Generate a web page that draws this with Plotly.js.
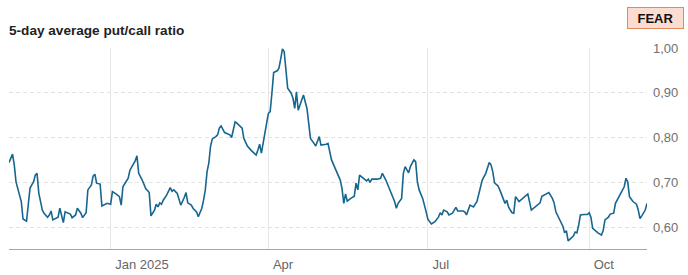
<!DOCTYPE html>
<html>
<head>
<meta charset="utf-8">
<script src="https://cdn.plot.ly/plotly-3.0.1.min.js"></script>
<style>
html,body{margin:0;padding:0;background:#fff;}
#chart{width:688px;height:275px;}
</style>
</head>
<body>
<div id="chart"></div>
<script>
// ---- data ----
const chartTitle = "5-day average put/call ratio";
const badgeText = "FEAR";

const dates = [
"2024-11-04","2024-11-06","2024-11-07","2024-11-08","2024-11-11","2024-11-12","2024-11-14","2024-11-15","2024-11-16","2024-11-17",
"2024-11-18","2024-11-19","2024-11-20","2024-11-21","2024-11-23","2024-11-24","2024-11-26","2024-11-27","2024-11-28","2024-11-29",
"2024-12-01","2024-12-02","2024-12-03","2024-12-04","2024-12-05","2024-12-06","2024-12-07","2024-12-09","2024-12-10","2024-12-12",
"2024-12-13","2024-12-15","2024-12-16","2024-12-18","2024-12-19","2024-12-21","2024-12-22","2024-12-23","2024-12-24","2024-12-26",
"2024-12-27","2024-12-29","2024-12-30",
"2025-01-01","2025-01-02","2025-01-04","2025-01-06","2025-01-07","2025-01-08","2025-01-11","2025-01-12","2025-01-14","2025-01-15",
"2025-01-16","2025-01-17","2025-01-19","2025-01-21","2025-01-23","2025-01-24","2025-01-26","2025-01-27","2025-01-28","2025-01-29",
"2025-01-30","2025-01-31",
"2025-02-02","2025-02-04","2025-02-05","2025-02-06","2025-02-08","2025-02-09","2025-02-10","2025-02-12","2025-02-13","2025-02-14",
"2025-02-16","2025-02-17","2025-02-19","2025-02-20","2025-02-22","2025-02-23","2025-02-24","2025-02-25","2025-02-26","2025-02-27",
"2025-02-28",
"2025-03-02","2025-03-03","2025-03-04","2025-03-05","2025-03-07","2025-03-09","2025-03-10","2025-03-11","2025-03-12","2025-03-13",
"2025-03-14","2025-03-16","2025-03-17","2025-03-18","2025-03-19","2025-03-20","2025-03-22","2025-03-24","2025-03-25","2025-03-26",
"2025-03-27","2025-03-28","2025-03-29","2025-03-30","2025-03-31",
"2025-04-01","2025-04-02","2025-04-03","2025-04-04","2025-04-06","2025-04-07","2025-04-08","2025-04-09","2025-04-10","2025-04-11",
"2025-04-12","2025-04-14","2025-04-15","2025-04-16","2025-04-17","2025-04-18","2025-04-19","2025-04-20","2025-04-21","2025-04-23",
"2025-04-24","2025-04-25","2025-04-27","2025-04-28","2025-04-30",
"2025-05-01","2025-05-04","2025-05-05","2025-05-07","2025-05-09","2025-05-12","2025-05-13","2025-05-14","2025-05-15","2025-05-16",
"2025-05-18","2025-05-20","2025-05-21","2025-05-22","2025-05-23","2025-05-25","2025-05-27","2025-05-28","2025-05-29","2025-05-30",
"2025-06-02","2025-06-04","2025-06-05","2025-06-07","2025-06-09","2025-06-11","2025-06-12","2025-06-13","2025-06-14","2025-06-16",
"2025-06-17","2025-06-18","2025-06-20","2025-06-21","2025-06-23","2025-06-24","2025-06-25","2025-06-26","2025-06-28","2025-06-30",
"2025-07-01","2025-07-03","2025-07-05","2025-07-07","2025-07-08","2025-07-09","2025-07-10","2025-07-12","2025-07-13","2025-07-15",
"2025-07-17","2025-07-18","2025-07-21","2025-07-22","2025-07-23","2025-07-25","2025-07-27","2025-07-29","2025-07-30",
"2025-08-01","2025-08-03","2025-08-04","2025-08-05","2025-08-06","2025-08-07","2025-08-08","2025-08-10","2025-08-11","2025-08-13",
"2025-08-14","2025-08-15","2025-08-16","2025-08-17","2025-08-18","2025-08-19","2025-08-20","2025-08-22","2025-08-24","2025-08-27",
"2025-08-29","2025-08-31",
"2025-09-02","2025-09-03","2025-09-04","2025-09-07","2025-09-08","2025-09-10","2025-09-11","2025-09-12","2025-09-14","2025-09-16",
"2025-09-17","2025-09-18","2025-09-19","2025-09-20","2025-09-22","2025-09-23","2025-09-24","2025-09-25","2025-09-26","2025-09-28",
"2025-09-30",
"2025-10-01","2025-10-02","2025-10-03","2025-10-04","2025-10-06","2025-10-08","2025-10-09","2025-10-10","2025-10-12","2025-10-13",
"2025-10-15","2025-10-16","2025-10-18","2025-10-19","2025-10-21","2025-10-22","2025-10-23","2025-10-24","2025-10-26","2025-10-28",
"2025-10-29","2025-10-30","2025-10-31","2025-11-02","2025-11-03"
];

const putCallRatio = [
0.744,0.763,0.739,0.701,0.657,0.618,0.613,0.660,0.687,0.694,
0.701,0.716,0.720,0.676,0.638,0.631,0.622,0.627,0.636,0.616,
0.620,0.622,0.642,0.627,0.610,0.634,0.632,0.629,0.621,0.627,
0.642,0.631,0.621,0.632,0.683,0.694,0.714,0.718,0.698,0.696,
0.647,0.651,0.653,
0.651,0.679,0.674,0.668,0.649,0.690,0.709,0.727,0.741,0.748,
0.759,0.720,0.705,0.686,0.677,0.625,0.638,0.651,0.645,0.654,
0.651,0.660,
0.672,0.688,0.680,0.683,0.675,0.660,0.649,0.666,0.677,0.654,
0.649,0.642,0.634,0.623,0.642,0.660,0.683,0.724,0.743,0.781,
0.797,
0.802,0.806,0.821,0.826,0.811,0.808,0.806,0.800,0.817,0.835,
0.832,0.826,0.821,0.798,0.787,0.781,0.772,0.765,0.761,0.772,
0.785,0.765,0.791,0.809,0.832,
0.854,0.858,0.899,0.945,0.949,0.955,0.975,0.998,0.992,0.940,
0.910,0.899,0.888,0.865,0.902,0.861,0.873,0.888,0.895,0.865,
0.824,0.798,0.787,0.781,0.802,
0.783,0.785,0.787,0.750,0.731,0.705,0.686,0.653,0.674,0.658,
0.664,0.669,0.698,0.683,0.716,0.709,0.703,0.707,0.700,0.707,
0.707,0.709,0.720,0.705,0.686,0.664,0.657,0.642,0.653,0.664,
0.720,0.735,0.721,0.735,0.750,0.746,0.701,0.683,0.664,0.634,
0.617,0.607,0.612,0.622,0.632,0.627,0.638,0.634,0.627,0.631,
0.644,0.636,0.636,0.634,0.627,0.649,0.645,0.657,0.675,
0.705,0.720,0.731,0.744,0.739,0.724,0.699,0.692,0.683,0.660,
0.653,0.660,0.645,0.638,0.632,0.631,0.668,0.657,0.664,0.674,
0.638,0.644,
0.651,0.654,0.669,0.674,0.677,0.664,0.654,0.634,0.616,0.602,
0.587,0.592,0.569,0.573,0.580,0.589,0.587,0.604,0.627,0.628,
0.628,
0.632,0.622,0.597,0.593,0.587,0.582,0.592,0.616,0.622,0.629,
0.631,0.653,0.666,0.675,0.690,0.709,0.701,0.668,0.657,0.651,
0.638,0.619,0.625,0.638,0.653
];

const xTickDates = ["2025-01-01","2025-04-01","2025-07-01","2025-10-01"];
const xTickLabels = ["Jan 2025","Apr","Jul","Oct"];
const yTickValues = [0.6,0.7,0.8,0.9,1.0];

// ---- chart ----
const FONT = "'Liberation Sans', Arial, sans-serif";

const trace = {
  type: "scatter",
  mode: "lines",
  x: dates,
  y: putCallRatio,
  line: {color: "#17668f", width: 1.6},
  hoverinfo: "skip"
};

const layout = {
  width: 688,
  height: 275,
  margin: {l: 9, r: 41.3, t: 48, b: 26, pad: 0},
  paper_bgcolor: "#ffffff",
  plot_bgcolor: "#ffffff",
  separators: ",.",
  showlegend: false,
  font: {family: FONT, size: 13, color: "#666666"},
  title: {
    text: chartTitle,
    x: 9/688, xref: "container", xanchor: "left",
    y: 1 - 30.5/275, yref: "container", yanchor: "middle",
    font: {family: FONT, size: 13.6, color: "#222222", weight: 700}
  },
  xaxis: {
    type: "date",
    range: ["2024-11-04", "2025-11-03"],
    tickvals: xTickDates,
    ticktext: xTickLabels,
    ticks: "",
    showgrid: true,
    gridcolor: "#e6e6e6",
    gridwidth: 1,
    showline: true,
    linecolor: "#a6a6a6",
    linewidth: 1,
    zeroline: false,
    ticklabelposition: "outside right",
    ticklabelshift: 4,
    ticklabelstandoff: 3,
    tickfont: {family: FONT, size: 13, color: "#666666"},
    fixedrange: true
  },
  yaxis: {
    side: "right",
    range: [0.551, 1.0],
    tickvals: yTickValues,
    tickformat: ".2f",
    ticks: "",
    showgrid: true,
    gridcolor: "#e3e3e3",
    gridwidth: 1,
    griddash: "4px,3px",
    showline: false,
    zeroline: false,
    ticklabelstandoff: 5,
    tickfont: {family: FONT, size: 13, color: "#707070"},
    fixedrange: true
  },
  annotations: [{
    text: "<b>" + badgeText + "</b>",
    xref: "paper", yref: "paper",
    x: (655.5 - 9) / 637.7, y: (249 - 18) / 201,
    xanchor: "center", yanchor: "middle",
    showarrow: false,
    width: 53, height: 18,
    bgcolor: "#fcdcd0",
    bordercolor: "#dd8a5f",
    borderwidth: 1,
    borderpad: 1,
    font: {family: FONT, size: 13, color: "#111111"}
  }]
};

Plotly.newPlot("chart", [trace], layout, {displayModeBar: false, staticPlot: true});
</script>
</body>
</html>
